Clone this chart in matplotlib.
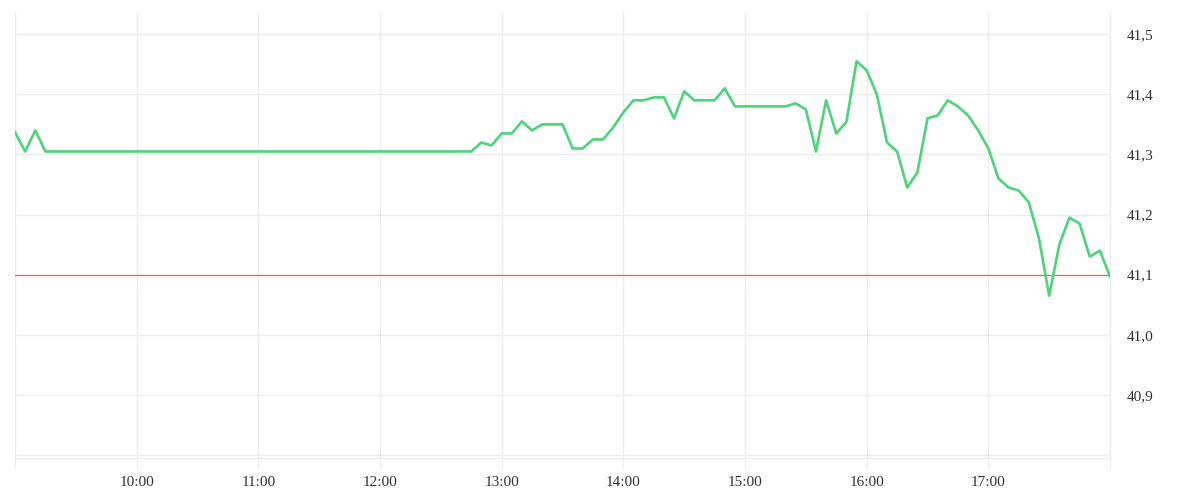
from matplotlib import pyplot as plt
import matplotlib.dates as mdates
from matplotlib.ticker import FuncFormatter
import pandas as pd

# 5-minute quotes, 09:00 .. 18:00
times = pd.date_range('2024-01-01 09:00', '2024-01-01 18:00', freq='5min')
prices = ([41.337, 41.305, 41.34] + [41.305] * 43 +
          [41.32, 41.315, 41.335, 41.335, 41.355, 41.34, 41.35, 41.35, 41.35,
           41.31, 41.31, 41.325, 41.325, 41.345,
           41.37, 41.39, 41.39, 41.395, 41.395, 41.36, 41.405, 41.39, 41.39,
           41.39, 41.41, 41.38,
           41.38, 41.38, 41.38, 41.38, 41.38, 41.385, 41.375, 41.305, 41.39,
           41.335, 41.354, 41.455,
           41.44, 41.40, 41.32, 41.305, 41.245, 41.27, 41.36, 41.365, 41.39,
           41.38, 41.365, 41.34,
           41.31, 41.26, 41.245, 41.24, 41.22, 41.16, 41.065, 41.15, 41.195,
           41.185, 41.13, 41.14,
           41.097])
prev_close = 41.1
y_ticks = [40.8, 40.9, 41.0, 41.1, 41.2, 41.3, 41.4, 41.5]
hour_ticks = pd.date_range('2024-01-01 09:00', '2024-01-01 18:00', freq='1h')

grid_c = '#ececec'
text_c = '#333333'

fig = plt.figure(figsize=(12, 5), dpi=100)
ax = fig.add_axes([15/1200, 1 - 458/500, 1095/1200, 446/500])

ax.plot(times, prices, color='#4cd47a', lw=1.9, zorder=3)
ax.axhline(prev_close, color='#f25c6a', lw=0.9, zorder=2)

ax.set_xlim(times[0], times[-1])
ax.set_ylim(40.795, 41.537)

ax.set_xticks(hour_ticks)
ax.xaxis.set_major_formatter(FuncFormatter(
    lambda v, p: '' if p in (0, len(hour_ticks) - 1) else mdates.num2date(v).strftime('%H:%M')))
ax.set_yticks(y_ticks)
ax.yaxis.set_major_formatter(FuncFormatter(
    lambda v, p: '' if v < 40.85 else f'{v:.1f}'.replace('.', ',')))
ax.yaxis.tick_right()

ax.grid(True, color=grid_c, lw=1)
ax.set_axisbelow(True)
for s in ['top', 'left']:
    ax.spines[s].set_visible(False)
for s in ['bottom', 'right']:
    ax.spines[s].set_color(grid_c)

ax.tick_params(axis='x', length=7, color=grid_c, pad=6, labelsize=11,
               labelcolor=text_c)
ax.tick_params(axis='y', length=0, pad=12, labelsize=11, labelcolor=text_c)
for lab in ax.get_xticklabels() + ax.get_yticklabels():
    lab.set_fontfamily('Liberation Serif')

fig.savefig('out.png', dpi=100)
